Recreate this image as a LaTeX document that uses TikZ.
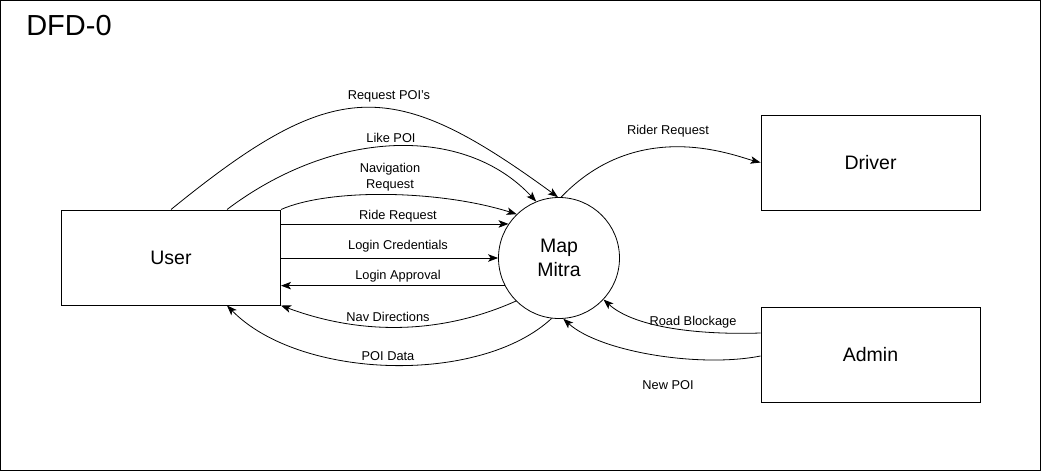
\documentclass[tikz,border=0pt]{standalone}
\usepackage{fontspec}
\setmainfont{Liberation Sans}
\usetikzlibrary{arrows.meta,calc}
\tikzset{
  ent/.style={draw, line width=1pt, minimum width=219pt, minimum height=95pt, inner sep=0pt, font=\fontsize{19.5}{23}\selectfont},
  proc/.style={draw, circle, line width=0.8pt, minimum size=121pt, inner sep=0pt, align=center, font=\fontsize{19.5}{24}\selectfont},
  flow/.style={line width=0.8pt, -{Stealth[length=10pt,width=7.5pt,inset=2.5pt]}},
  lbl/.style={font=\fontsize{12.8}{15.5}\selectfont, inner sep=0pt, align=center, yshift=-1.5pt}
}
\begin{document}
\begin{tikzpicture}[x=1pt,y=-1pt]
\useasboundingbox (0,0) rectangle (1041,471);
\draw[line width=1pt] (0.5,0.5) rectangle (1040.5,470.5);
\node[font=\fontsize{29}{34}\selectfont, inner sep=0pt] (title) at (69,25.5) {DFD-0};

\node[ent] (u) at (171,257.5) {\raisebox{-1.5pt}{User}};
\node[ent] (d) at (870.5,162.5) {\raisebox{-1pt}{Driver}};
\node[ent] (a) at (870.5,355) {\raisebox{-1pt}{Admin}};
\node[proc] (m) at (559,258) {Map\\Mitra};

\coordinate (ulike) at ($(u.north)+(56,0)$);
\coordinate (upoi) at ($(u.south)+(56,0)$);
\coordinate (ablk) at ($(a.west)+(0,-22)$);
\coordinate (anew) at ($(a.west)+(0,1)$);

% User -> Map Mitra
\draw[flow] (u.north) .. controls (335,76) and (392,76) .. (m.91);
\draw[flow] (ulike) .. controls (335,128) and (465,125) .. (m.112);
\draw[flow] (u.north east) .. controls (330,188) and (440,190) .. (m.134.3);
\draw[flow] (m.146.9 -| u.east) -- (m.146.9);
\draw[flow] (m.west -| u.east) -- (m.west);
\draw[flow] (m.207.6) -- (m.207.6 -| u.east);
\draw[flow] (m.225) .. controls (440,335) and (360,335) .. (u.south east);
\draw[flow] (m.263) .. controls (480,385) and (300,380) .. (upoi);

% Map Mitra -> Driver
\draw[flow] (m.88) .. controls (639,116) and (735,156) .. (d.west);

% Admin -> Map Mitra
\draw[flow] (ablk) .. controls (700,335) and (635,328) .. (m.317);
\draw[flow] (anew) .. controls (700,368) and (600,352) .. (m.274);

% labels
\node[lbl] (l1) at (389,95) {Request POI’s};
\node[lbl] (l2) at (391,136) {Like POI};
\node[lbl] (l3) at (390,175.5) {Navigation\\Request};
\node[lbl] (l4) at (398,215) {Ride Request};
\node[lbl] (l5) at (398,245) {Login Credentials};
\node[lbl] (l6) at (398,275) {Login Approval};
\node[lbl] (l7) at (388,315) {Nav Directions};
\node[lbl] (l8) at (388,355) {POI Data};
\node[lbl] (l9) at (668,130) {Rider Request};
\node[lbl] (l10) at (693,321) {Road Blockage};
\node[lbl] (l11) at (668,384) {New POI};
\end{tikzpicture}
\end{document}
